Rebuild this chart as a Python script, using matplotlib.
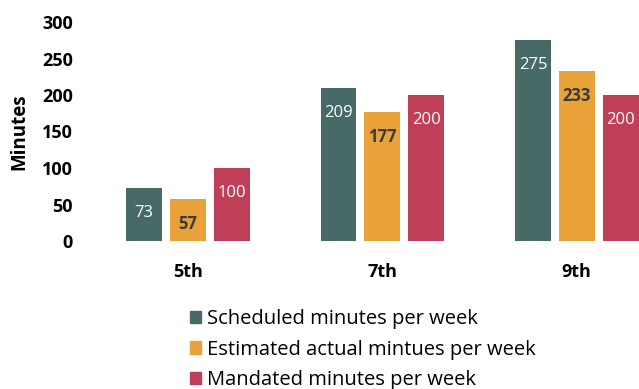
import numpy as np
import matplotlib.pyplot as plt
from matplotlib.patches import Patch

plt.rcParams['font.family'] = ['Open Sans', 'DejaVu Sans']

grades = ['5th', '7th', '9th']
scheduled = [73, 209, 275]
estimated = [57, 177, 233]
mandated = [100, 200, 200]
series_names = ['Scheduled minutes per week',
                'Estimated actual mintues per week',
                'Mandated minutes per week']
colors = ['#486a67', '#e9a23a', '#bf3f59']
label_colors = ['white', '#3a3a3a', 'white']
label_weights = ['normal', 'bold', 'normal']

fig = plt.figure(figsize=(6.39, 3.89), dpi=100)
ax = fig.add_axes([80 / 639, 148 / 389, 559 / 639, 219 / 389])

x = np.arange(len(grades))
width = 0.185
step = 0.225
for i, vals in enumerate([scheduled, estimated, mandated]):
    bars = ax.bar(x + (i - 1) * step, vals, width, color=colors[i])
    for b, v in zip(bars, vals):
        ax.annotate(str(v), (b.get_x() + b.get_width() / 2, v),
                    xytext=(0, -25), textcoords='offset pixels',
                    ha='center', va='center', fontsize=12,
                    color=label_colors[i], fontweight=label_weights[i])

ax.set_xlim(-0.554, 2.32)
ax.set_ylim(0, 300)
ax.set_yticks([0, 50, 100, 150, 200, 250, 300])
ax.set_xticks(x)
ax.set_xticklabels(grades, fontsize=13, fontweight='bold')
ax.tick_params(axis='y', labelsize=13, length=0, pad=5)
ax.tick_params(axis='x', length=0, pad=16)
for lbl in ax.get_yticklabels():
    lbl.set_fontweight('bold')
for s in ax.spines.values():
    s.set_visible(False)
ax.set_ylabel('Minutes', fontsize=13.5, fontweight='bold', labelpad=9)

handles = [Patch(color=c) for c in colors]
fig.legend(handles, series_names, loc='upper left',
           bbox_to_anchor=(176 / 639, 1 - 295 / 389), frameon=False,
           fontsize=14.5, handlelength=0.55, handleheight=0.6,
           handletextpad=0.3, labelspacing=0.52, borderpad=0.2)

plt.savefig('out.png', dpi=100)
